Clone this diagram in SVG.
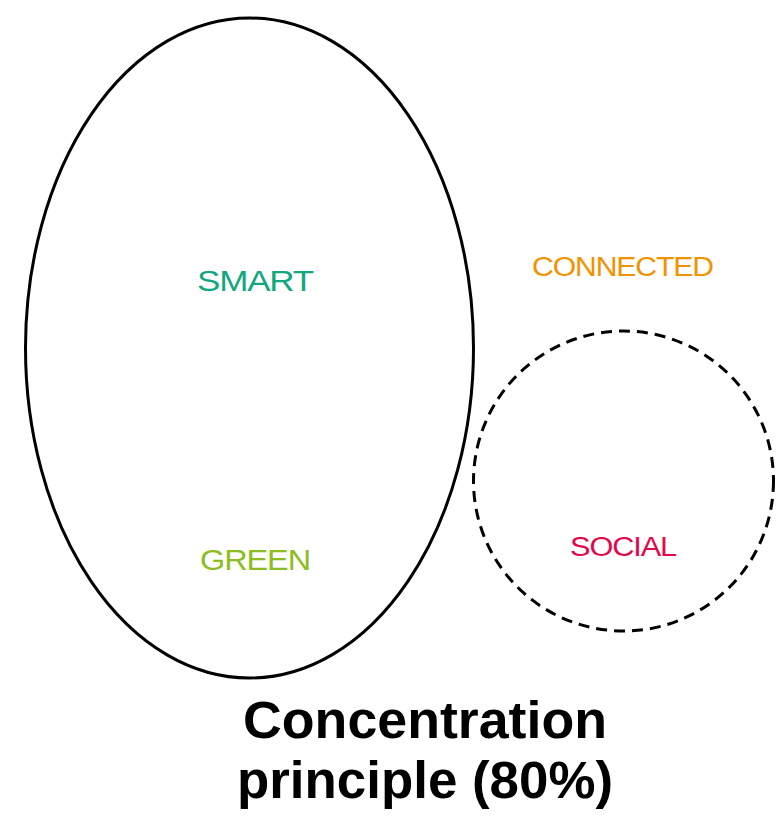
<svg xmlns="http://www.w3.org/2000/svg" width="781" height="822" viewBox="0 0 781 822">
<style>
.lbl{font-family:"Liberation Sans",Arial,sans-serif;text-anchor:middle;letter-spacing:-1px}
.title{font-family:"Liberation Sans",Arial,sans-serif;font-weight:bold;font-size:51px;text-anchor:middle;fill:#000}
</style>
<rect width="781" height="822" fill="#fff"/>
<g id="ellipse-node">
<ellipse cx="249.5" cy="348" rx="224" ry="330" fill="none" stroke="#000" stroke-width="3"/>
<text class="lbl" x="255" y="291" font-size="30" fill="#12a77f" textLength="116" lengthAdjust="spacingAndGlyphs">SMART</text>
<text class="lbl" x="255" y="570" font-size="30" fill="#8dbd20" textLength="110" lengthAdjust="spacingAndGlyphs">GREEN</text>
</g>
<g id="circle-node">
<circle cx="623.5" cy="481" r="150" fill="none" stroke="#000" stroke-width="3" stroke-dasharray="11,7"/>
<text class="lbl" x="623" y="556" font-size="27" fill="#e3084a" textLength="106" lengthAdjust="spacingAndGlyphs">SOCIAL</text>
</g>
<g id="connected-label">
<text class="lbl" x="622.5" y="276" font-size="27" fill="#f39200" textLength="181" lengthAdjust="spacingAndGlyphs">CONNECTED</text>
</g>
<g id="title">
<text class="title" x="425" y="738" textLength="364" lengthAdjust="spacingAndGlyphs">Concentration</text>
<text class="title" x="425" y="798" textLength="376" lengthAdjust="spacingAndGlyphs">principle (80%)</text>
</g>
<g id="connectors"></g>
</svg>
